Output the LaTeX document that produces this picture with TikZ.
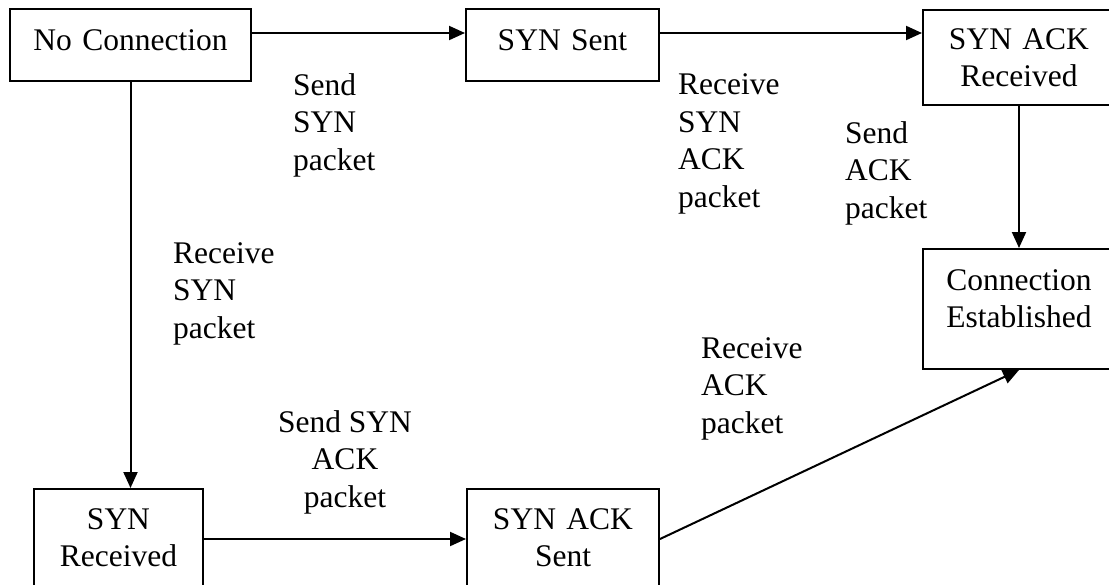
\documentclass[tikz,border=0pt]{standalone}
\usepackage{fontspec}
\setmainfont{Liberation Serif}
\usetikzlibrary{arrows.meta}

\tikzset{
  stbox/.style={draw, line width=2pt, inner sep=0pt, anchor=north west,
    align=center, text width=#1},
  trans/.style={line width=2pt, -{Triangle[length=16pt,width=14pt]}},
  lbl/.style={inner sep=0pt, anchor=base west, align=left}
}

\begin{document}
\begin{tikzpicture}[x=1pt,y=-1pt,
  every node/.style={font=\fontsize{31.5pt}{37.5pt}\selectfont}]

\useasboundingbox (0,0) rectangle (1109,584);
\fill[white] (0,0) rectangle (1109,584);
\clip (0,0) rectangle (1109,584);

% states
\node[stbox=241pt, text height=41pt, text depth=31pt] (nc) at (9,8) {No Connection};
\node[stbox=193pt, text height=41pt, text depth=31pt] (ss) at (465,8) {SYN Sent};
\node[stbox=192pt, text height=39pt, text depth=56pt] (sar) at (922,9) {SYN ACK\\Received};
\node[stbox=192pt, text height=41pt, text depth=79pt] (ce) at (922,248) {Connection\\Established};
\node[stbox=169pt, text height=40pt, text depth=60pt] (sr) at (33,488) {SYN\\Received};
\node[stbox=192pt, text height=40pt, text depth=60pt] (sas) at (466,488) {SYN ACK\\Sent};

% transitions
\draw[trans] ([yshift=12pt]nc.east) -- ([yshift=12pt]nc.east -| ss.west);
\draw[trans] ([yshift=12pt]ss.east) -- ([yshift=12pt]ss.east -| sar.west);
\draw[trans] (nc.south) -- (nc.south |- sr.north);
\draw[trans] (sar.south) -- (ce.north);
\draw[trans] (sr.east) -- (sas.west);
\draw[trans] (sas.east) -- (ce.south);

% transition labels (anchored at the baseline of their last line)
\node[lbl] (l1) at (293,170) {Send\\SYN\\packet};
\node[lbl] (l2) at (678,207) {Receive\\SYN\\ACK\\packet};
\node[lbl] (l3) at (845,218) {Send\\ACK\\packet};
\node[lbl] (l4) at (173,338) {Receive\\SYN\\packet};
\node[inner sep=0pt, anchor=base, align=center] (l5) at (345,507) {Send SYN\\ACK\\packet};
\node[lbl] (l6) at (701,433) {Receive\\ACK\\packet};
\end{tikzpicture}
\end{document}
